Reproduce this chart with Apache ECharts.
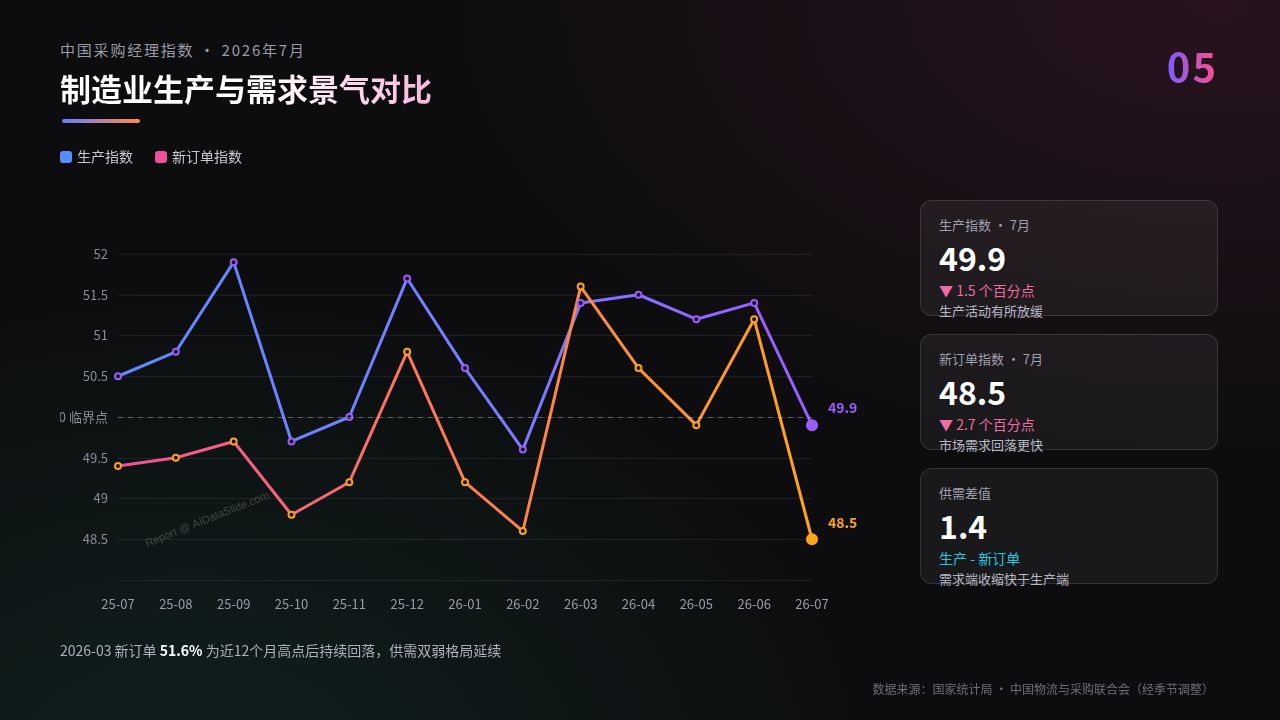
<!DOCTYPE html>
<html>
<head>
<meta charset="utf-8">
<script src="https://cdn.jsdelivr.net/npm/echarts@6/dist/echarts.min.js"></script>
<style>
  html, body { margin: 0; padding: 0; }
  body {
    width: 1280px; height: 720px; overflow: hidden; position: relative;
    font-family: "Noto Sans CJK SC", "Noto Sans", sans-serif;
    background: radial-gradient(ellipse at 15% 110%, rgba(20,70,60,0.35), transparent 45%),
                radial-gradient(ellipse at 95% 0%, rgba(90,30,60,0.35), transparent 45%),
                #0d0d0f;
  }
  .sub { position: absolute; left: 60px; top: 39px; font-size: 15px; color: #9a9aa8; letter-spacing: 1.8px; }
  .title { position: absolute; left: 60px; top: 65px; font-size: 31px; font-weight: bold;
    background: linear-gradient(90deg, #ffffff 55%, #f6b8dc); -webkit-background-clip: text; color: transparent; }
  .bar { position: absolute; left: 62px; top: 119px; width: 78px; height: 4px; border-radius: 2px;
    background: linear-gradient(90deg, #6a7cff, #ff8a4c); }
  .num { position: absolute; right: 62px; top: 36px; font-size: 40px; font-weight: bold; letter-spacing: 2px;
    background: linear-gradient(90deg, #7b5cff, #ff4f8a); -webkit-background-clip: text; color: transparent; }
  #chart { position: absolute; left: 60px; top: 0; width: 820px; height: 720px; overflow: hidden; }
  .card { position: absolute; left: 920px; width: 298px; height: 116px; border-radius: 12px;
    border: 1px solid rgba(255,255,255,0.12); background: rgba(255,255,255,0.05); box-sizing: border-box; }
  .card .k { position: absolute; left: 18px; top: 14px; font-size: 13px; color: #a0a0b0; }
  .card .v { position: absolute; left: 18px; top: 33px; font-size: 32px; font-weight: bold; color: #fff; }
  .card .d { position: absolute; left: 18px; top: 79px; font-size: 14px; color: #f06aa5; }
  .card .n { position: absolute; left: 18px; top: 100px; font-size: 13px; color: #b8b8c4; }
  .note { position: absolute; left: 60px; top: 640px; font-size: 14px; color: #b0b0bc; }
  .note b { color: #fff; }
  .src { position: absolute; right: 66px; top: 680px; font-size: 12px; color: #6e6e7a; }
</style>
</head>
<body>
<div class="sub">中国采购经理指数 · 2026年7月</div>
<div class="title">制造业生产与需求景气对比</div>
<div class="bar"></div>
<div class="num">05</div>
<div id="chart"></div>

<div class="card" style="top:200px"><div class="k">生产指数 · 7月</div><div class="v">49.9</div><div class="d">▼ 1.5 个百分点</div><div class="n">生产活动有所放缓</div></div>
<div class="card" style="top:334px"><div class="k">新订单指数 · 7月</div><div class="v">48.5</div><div class="d">▼ 2.7 个百分点</div><div class="n">市场需求回落更快</div></div>
<div class="card" style="top:468px"><div class="k">供需差值</div><div class="v">1.4</div><div class="d" style="color:#22c8e0">生产 - 新订单</div><div class="n">需求端收缩快于生产端</div></div>

<div class="note">2026-03 新订单 <b>51.6%</b> 为近12个月高点后持续回落，供需双弱格局延续</div>
<div class="src">数据来源：国家统计局 · 中国物流与采购联合会（经季节调整）</div>

<script>
var months = ['25-07', '25-08', '25-09', '25-10', '25-11', '25-12', '26-01', '26-02', '26-03', '26-04', '26-05', '26-06', '26-07'];
var production = [50.5, 50.8, 51.9, 49.7, 50.0, 51.7, 50.6, 49.6, 51.4, 51.5, 51.2, 51.4, 49.9];
var newOrders = [49.4, 49.5, 49.7, 48.8, 49.2, 50.8, 49.2, 48.6, 51.6, 50.6, 49.9, 51.2, 48.5];

var chart = echarts.init(document.getElementById('chart'));

// 最后一个点放大并标注数值
function withEnd(arr, color) {
  return arr.map(function (v, i) {
    if (i < arr.length - 1) return v;
    return {
      value: v, symbol: 'circle', symbolSize: 10,
      itemStyle: { color: color, borderColor: color },
      label: { show: true, position: 'right', distance: 10, offset: [0, -17], color: color, fontSize: 14, fontWeight: 'bold', formatter: '{c}' }
    };
  });
}

var option = {
  backgroundColor: 'transparent',
  textStyle: { fontFamily: 'Noto Sans CJK SC' },
  legend: {
    left: 0, top: 150, padding: 0, itemWidth: 12, itemHeight: 12, itemGap: 22, icon: 'roundRect',
    textStyle: { color: '#c8c8d2', fontSize: 14 },
    data: [
      { name: '生产指数', itemStyle: { color: '#5b8cff', borderWidth: 0 } },
      { name: '新订单指数', itemStyle: { color: '#f0509a', borderWidth: 0 } }
    ]
  },
  grid: { left: 58, right: 68, top: 254, bottom: 140, containLabel: false, outerBoundsMode: 'none' },
  xAxis: {
    type: 'category', boundaryGap: false, data: months,
    axisLine: { show: false }, axisTick: { show: false },
    axisLabel: { color: '#9a9aa8', fontSize: 13, margin: 18 }
  },
  yAxis: {
    type: 'value', min: 48, max: 52, interval: 0.5,
    axisLabel: {
      color: '#8a8a98', fontSize: 13, margin: 10,
      formatter: function (v) { if (v === 48) return ''; if (v === 50) return '50.0 临界点'; return v; }
    },
    splitLine: { lineStyle: { color: 'rgba(255,255,255,0.07)' } }
  },
  graphic: [{
    type: 'text', left: 84, top: 490, rotation: 0.38,
    style: { text: 'Report @ AIDataSlide.com', fill: 'rgba(255,255,255,0.2)', fontSize: 11 }
  }],
  series: [{
    name: '生产指数', type: 'line', data: withEnd(production, '#9b5cff'),
    symbol: 'circle', symbolSize: 6, z: 3,
    lineStyle: { width: 3, color: new echarts.graphic.LinearGradient(0, 0, 1, 0, [{ offset: 0, color: '#5b8cff' }, { offset: 0.55, color: '#7a7cff' }, { offset: 1, color: '#9b5cff' }]) },
    itemStyle: { color: '#141418', borderColor: '#9b5cff', borderWidth: 2 },
    markLine: {
      silent: true, symbol: 'none', label: { show: false },
      lineStyle: { color: 'rgba(255,255,255,0.3)', type: [5, 5], width: 1 },
      data: [{ yAxis: 50 }]
    }
  }, {
    name: '新订单指数', type: 'line', data: withEnd(newOrders, '#ffa31a'),
    symbol: 'circle', symbolSize: 6,
    lineStyle: { width: 3, color: new echarts.graphic.LinearGradient(0, 0, 1, 0, [{ offset: 0, color: '#f0509a' }, { offset: 0.5, color: '#ff7a55' }, { offset: 1, color: '#ffa31a' }]) },
    itemStyle: { color: '#141418', borderColor: '#ffa31a', borderWidth: 2 }
  }]
};
chart.setOption(option);
</script>
</body>
</html>
